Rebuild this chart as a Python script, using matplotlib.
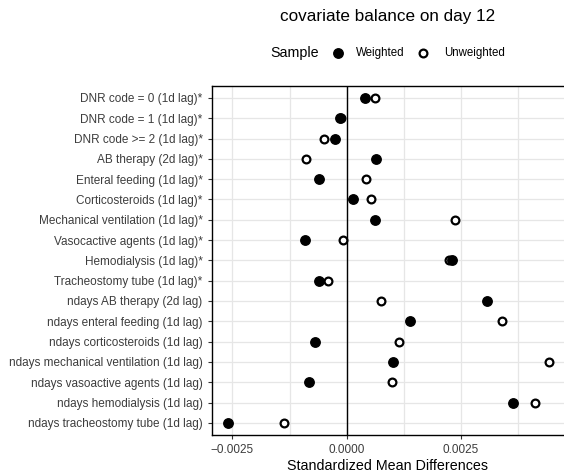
import matplotlib.pyplot as plt
from matplotlib.lines import Line2D
from matplotlib.ticker import MultipleLocator

plt.rcParams['font.family'] = ['Liberation Sans', 'DejaVu Sans']

# variables, top to bottom
covariates = [
    'DNR code = 0 (1d lag)*',
    'DNR code = 1 (1d lag)*',
    'DNR code >= 2 (1d lag)*',
    'AB therapy (2d lag)*',
    'Enteral feeding (1d lag)*',
    'Corticosteroids (1d lag)*',
    'Mechanical ventilation (1d lag)*',
    'Vasocactive agents (1d lag)*',
    'Hemodialysis (1d lag)*',
    'Tracheostomy tube (1d lag)*',
    'ndays AB therapy (2d lag)',
    'ndays enteral feeding (1d lag)',
    'ndays corticosteroids (1d lag)',
    'ndays mechanical ventilation (1d lag)',
    'ndays vasoactive agents (1d lag)',
    'ndays hemodialysis (1d lag)',
    'ndays tracheostomy tube (1d lag)',
]
weighted = [0.00039, -0.00014, -0.00025, 0.00063, -0.00061, 0.00013, 0.00062,
            -0.00091, 0.00230, -0.00061, 0.00307, 0.00139, -0.00069, 0.00101,
            -0.00083, 0.00363, -0.00260]
unweighted = [0.00061, -0.00013, -0.00050, -0.00088, 0.00043, 0.00053, 0.00237,
              -0.00008, 0.00223, -0.00042, 0.00076, 0.00339, 0.00114, 0.00442,
              0.00098, 0.00412, -0.00137]

fig = plt.figure(figsize=(5.64, 4.76), dpi=100)
ax = fig.add_axes([211.7 / 564, 41 / 476, 1 - 211.7 / 564, 349.3 / 476])

y = list(range(len(covariates)))[::-1]

ax.plot(unweighted, y, 'o', ms=5.6, mfc='white', mec='black', mew=1.6, zorder=3)
ax.plot(weighted, y, 'o', ms=6.8, color='black', zorder=4)
ax.axvline(0, color='black', lw=1.0, zorder=2)

ax.set_xlim(-0.002953, 0.004753)
ax.set_ylim(-0.6, len(covariates) - 0.4)
ax.set_yticks(y)
ax.set_yticklabels(covariates)
ax.xaxis.set_major_locator(MultipleLocator(0.0025))
ax.xaxis.set_minor_locator(MultipleLocator(0.00125))
ax.xaxis.set_major_formatter(
    lambda v, p: ('%.4f' % v).replace('-', '\u2212') if abs(v) > 1e-12 else '0.0000')
ax.tick_params(labelsize=8.5, labelcolor='#3d3d3d', color='#333333', length=3, width=0.8)
ax.tick_params(axis='x', which='minor', length=0)

ax.grid(True, which='both', color='#e6e6e6', lw=0.9)
ax.set_axisbelow(True)
for s in ['top', 'left', 'bottom']:
    ax.spines[s].set_color('black')
    ax.spines[s].set_linewidth(1.0)
ax.spines['right'].set_visible(False)

ax.set_xlabel('Standardized Mean Differences', fontsize=10.3, labelpad=2)

fig.text(388 / 564, 1 - 16.7 / 476, 'covariate balance on day 12', fontsize=12.3,
         ha='center', va='center')

# legend
ly = 1 - 52.7 / 476
fig.text(270.7 / 564, ly, 'Sample', fontsize=10.3, ha='left', va='center')
fig.add_artist(Line2D([337.7 / 564], [ly], transform=fig.transFigure, marker='o',
                      ms=6.8, color='black', ls=''))
fig.text(356 / 564, ly, 'Weighted', fontsize=8.3, ha='left', va='center')
fig.add_artist(Line2D([423.3 / 564], [ly], transform=fig.transFigure, marker='o',
                      ms=5.6, mfc='white', mec='black', mew=1.6, ls=''))
fig.text(444 / 564, ly, 'Unweighted', fontsize=8.3, ha='left', va='center')

fig.savefig('out.png', dpi=100)
